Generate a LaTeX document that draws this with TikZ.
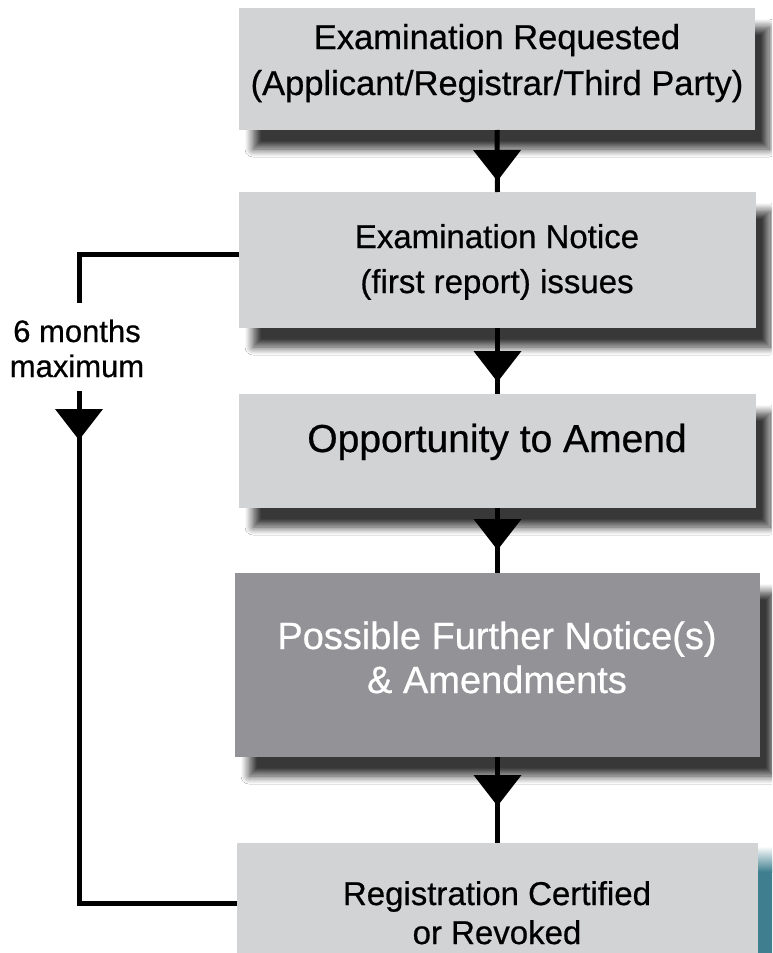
\documentclass[tikz,border=0pt]{standalone}
\usepackage{fontspec}
\setmainfont{Liberation Sans}[FakeBold=0.6]
\usetikzlibrary{shadows.blur,decorations.markings,calc}
\definecolor{boxlight}{HTML}{D2D3D5}
\definecolor{boxdark}{HTML}{939397}
\definecolor{tealstrip}{HTML}{3E7E8E}
\tikzset{
  box/.style={rectangle, anchor=north west, inner sep=0pt, outer sep=0pt, fill=boxlight,
    blur shadow={shadow xshift=14pt, shadow yshift=-19pt, shadow blur radius=8pt, shadow opacity=78, shadow blur steps=10}},
  darkbox/.style={box, fill=boxdark},
  conn/.style={line width=5pt, draw=black},
  midtip/.style={postaction={decorate}, decoration={markings,
    mark=at position #1 with {\fill[black] (-31pt,-24pt) -- (0pt,0pt) -- (-31pt,24pt) -- cycle;}}},
  txt/.style={anchor=base, inner sep=0pt, outer sep=0pt, text=black},
  wtxt/.style={txt, text=white},
}
\begin{document}
\begin{tikzpicture}[x=1pt,y=-1pt]
\useasboundingbox (0,0) rectangle (772,953);
\clip (0,0) rectangle (772,953);
\fill[white] (0,0) rectangle (772,953);
% boxes
\node[box, minimum width=516pt, minimum height=122pt] (b1) at (239,8) {};
\node[box, minimum width=517pt, minimum height=136pt] (b2) at (239,192) {};
\node[box, minimum width=517pt, minimum height=114pt] (b3) at (239,394) {};
\node[darkbox, minimum width=525pt, minimum height=184pt] (b4) at (235,573) {};
\node[box, minimum width=521pt, minimum height=130pt] (b5) at (237,843) {};
\shade[top color=white, bottom color=tealstrip] (758,846) rectangle (772,872);
\fill[tealstrip] (758,872) rectangle (772,953);
% texts
\node[txt, font=\fontsize{34.5}{40}\selectfont] (t1a) at (497,49) {Examination Requested};
\node[txt, font=\fontsize{34.5}{40}\selectfont] (t1b) at (497,95) {(Applicant/Registrar/Third Party)};
\node[txt, font=\fontsize{33}{40}\selectfont] (t2a) at (497,248) {Examination Notice};
\node[txt, font=\fontsize{33}{40}\selectfont] (t2b) at (497,293) {(first report) issues};
\node[txt, font=\fontsize{39}{45}\selectfont] (t3) at (497,452) {Opportunity to Amend};
\node[wtxt, font=\fontsize{38}{45}\selectfont] (t4a) at (497,649) {Possible Further Notice(s)};
\node[wtxt, font=\fontsize{38}{45}\selectfont] (t4b) at (497,693) {\& Amendments};
\node[txt, font=\fontsize{33}{40}\selectfont] (t5a) at (497,905) {Registration Certified};
\node[txt, font=\fontsize{33}{40}\selectfont] (t5b) at (497,944) {or Revoked};
\node[txt, font=\fontsize{31}{36}\selectfont] (l6) at (77,342) {6 months};
\node[txt, font=\fontsize{31}{36}\selectfont] (lmax) at (77,377) {maximum};
% connectors
\draw[conn, midtip=51pt] (b1.south) -- (b2.north);
\draw[conn, midtip=54pt] (b2.south) -- (b3.north);
\draw[conn, midtip=42pt] (b3.south) -- (b4.north);
\draw[conn, midtip=49pt] (b4.south) -- (b5.north);
\coordinate (b2w) at ($(b2.north west)+(0,62)$);
\coordinate (b5w) at ($(b5.north west)+(0,60)$);
\coordinate (gt) at (79,303);
\coordinate (gb) at (79,391);
\draw[conn] (b2w) -| (gt);
\draw[conn, midtip=49pt] (gb) |- (b5w);
\end{tikzpicture}
\end{document}
